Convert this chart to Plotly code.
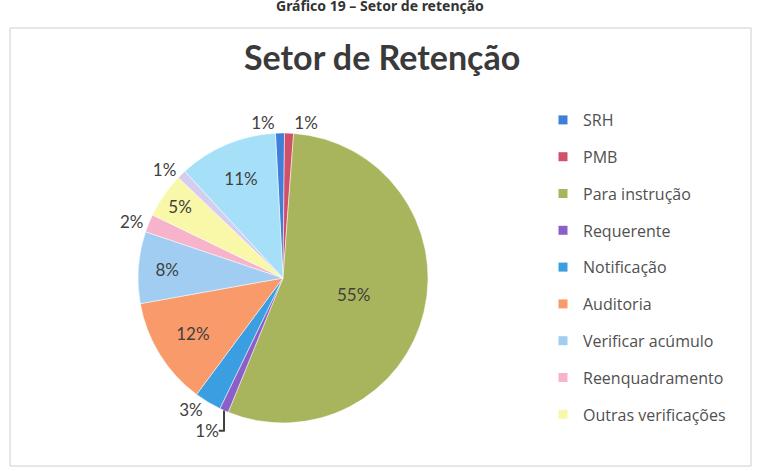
import plotly.graph_objects as go

labels = ["SRH", "PMB", "Para instrução", "Requerente", "Notificação", "Auditoria",
          "Verificar acúmulo", "Reenquadramento", "Outras verificações",
          "Outros (1)", "Outros (2)"]
values = [1, 1, 55, 1, 3, 12, 8, 2, 5, 1, 11]
legend_count = 9
colors = ["#3f7fd9", "#d0506a", "#a8b55c", "#8a5fc8", "#3a9ee0", "#f99a6a",
          "#a2cdf2", "#f7b3c9", "#f8f8a8", "#d5cdf0", "#a6e0f8"]
text_pos = ["outside", "outside", "inside", "outside", "outside", "inside",
            "inside", "outside", "inside", "outside", "inside"]

W, H = 758, 471
def px(x): return x / W
def py(y): return 1 - y / H

fig = go.Figure()
fig.add_trace(go.Pie(
    labels=labels, values=values, sort=False, direction="clockwise", rotation=-3,
    marker=dict(colors=colors, line=dict(color="white", width=0.5)),
    textinfo="percent", textposition=text_pos, insidetextorientation="horizontal",
    textfont=dict(family="Lato", size=17, color="#404040"),
    domain=dict(x=[px(138), px(428)], y=[py(423), py(133)]),
    showlegend=False, hoverinfo="label+percent",
))

for i in range(legend_count):
    fig.add_trace(go.Scatter(
        x=[None], y=[None], mode="markers", name=labels[i],
        marker=dict(symbol="square", size=9, color=colors[i]),
        legendgroup=labels[i], showlegend=True,
    ))

fig.update_layout(
    width=W, height=H, margin=dict(l=0, r=0, t=0, b=0),
    paper_bgcolor="white", plot_bgcolor="white",
    xaxis=dict(visible=False), yaxis=dict(visible=False),
    legend=dict(x=px(543), y=py(103), xanchor="left", yanchor="top",
                font=dict(family="Open Sans", size=16, color="#505050"),
                tracegroupgap=13, itemwidth=30, bgcolor="rgba(0,0,0,0)"),
    shapes=[dict(type="rect", xref="paper", yref="paper",
                 x0=px(10), x1=px(751), y0=py(466), y1=py(28),
                 line=dict(color="#cfcfcf", width=1))],
    annotations=[
        dict(text="<b>Setor de Retenção</b>", xref="paper", yref="paper",
             x=px(382), y=py(57), showarrow=False, xanchor="center", yanchor="middle",
             font=dict(family="Lato", size=34, color="#3a3a3a")),
        dict(text="<b>Gráfico 19 – Setor de retenção</b>", xref="paper", yref="paper",
             x=px(380), y=py(6), showarrow=False, xanchor="center", yanchor="middle",
             font=dict(family="Noto Sans", size=14, color="#333333")),
    ],
)

fig.write_html("out.html", config={"displayModeBar": False},
               post_script="document.body.style.margin='0px';")
